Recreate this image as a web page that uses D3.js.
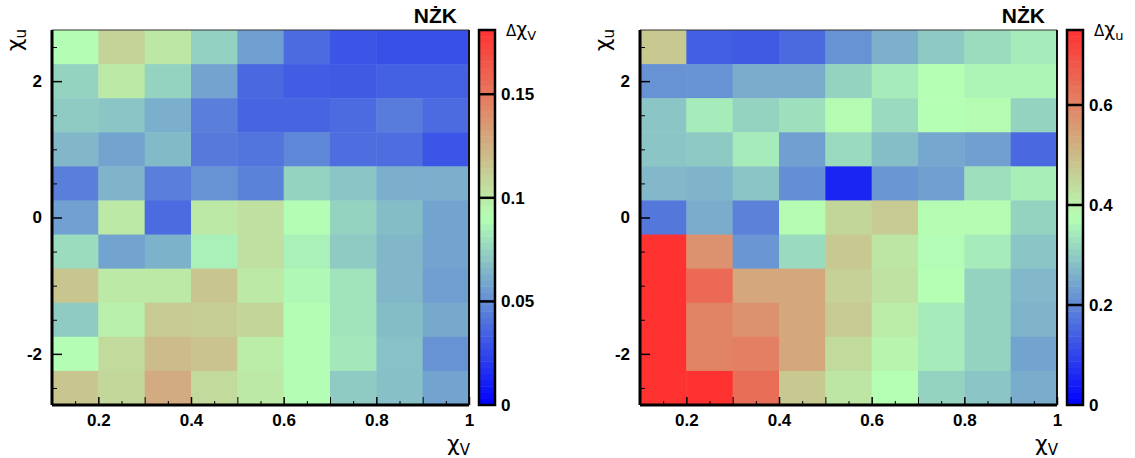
<!DOCTYPE html>
<html>
<head>
<meta charset="utf-8">
<script src="https://cdn.jsdelivr.net/npm/d3@7"></script>
<style>
  body { margin: 0; background: #fff; }
  .tick text { font-family: "Liberation Sans", Arial, sans-serif; font-weight: bold; font-size: 17px; fill: #000; }
</style>
</head>
<body>
<div id="chart"></div>
<script>
var W = 1135, H = 458;

// bin centres
var xCenters = [0.15, 0.25, 0.35, 0.45, 0.55, 0.65, 0.75, 0.85, 0.95];
var yCenters = [2.5, 2, 1.5, 1, 0.5, 0, -0.5, -1, -1.5, -2, -2.5];

// delta chi_V, rows from top (chi_u = 2.5) to bottom (chi_u = -2.5)
var dChiV = [
  [0.090, 0.110, 0.101, 0.074, 0.056, 0.038, 0.030, 0.028, 0.028],
  [0.075, 0.100, 0.075, 0.058, 0.037, 0.033, 0.032, 0.034, 0.034],
  [0.072, 0.070, 0.062, 0.045, 0.036, 0.036, 0.038, 0.044, 0.038],
  [0.065, 0.058, 0.066, 0.043, 0.041, 0.048, 0.039, 0.039, 0.030],
  [0.045, 0.064, 0.045, 0.052, 0.046, 0.075, 0.070, 0.062, 0.062],
  [0.057, 0.100, 0.038, 0.100, 0.104, 0.090, 0.075, 0.067, 0.058],
  [0.078, 0.058, 0.063, 0.085, 0.104, 0.085, 0.072, 0.065, 0.058],
  [0.116, 0.100, 0.100, 0.116, 0.100, 0.088, 0.081, 0.065, 0.056],
  [0.072, 0.097, 0.114, 0.112, 0.109, 0.090, 0.081, 0.067, 0.060],
  [0.090, 0.107, 0.120, 0.117, 0.099, 0.090, 0.082, 0.069, 0.052],
  [0.116, 0.108, 0.127, 0.107, 0.100, 0.090, 0.072, 0.068, 0.058]
];

// delta chi_u
var dChiU = [
  [0.476, 0.139, 0.133, 0.156, 0.214, 0.260, 0.296, 0.323, 0.345],
  [0.214, 0.214, 0.255, 0.255, 0.310, 0.345, 0.375, 0.360, 0.360],
  [0.290, 0.345, 0.310, 0.330, 0.380, 0.320, 0.375, 0.380, 0.310],
  [0.290, 0.295, 0.345, 0.235, 0.320, 0.280, 0.245, 0.235, 0.155],
  [0.270, 0.265, 0.290, 0.210, 0.055, 0.220, 0.235, 0.330, 0.350],
  [0.175, 0.255, 0.190, 0.380, 0.450, 0.470, 0.380, 0.380, 0.310],
  [0.780, 0.574, 0.220, 0.320, 0.475, 0.420, 0.370, 0.345, 0.290],
  [0.780, 0.650, 0.536, 0.536, 0.460, 0.430, 0.375, 0.310, 0.270],
  [0.780, 0.600, 0.575, 0.536, 0.470, 0.410, 0.345, 0.310, 0.265],
  [0.780, 0.600, 0.610, 0.536, 0.440, 0.395, 0.345, 0.310, 0.240],
  [0.780, 0.780, 0.640, 0.475, 0.420, 0.375, 0.310, 0.290, 0.255]
];

var xTicks = [0.2, 0.4, 0.6, 0.8, 1];
var yTicks = [-2, 0, 2];
var zTicksV = [0, 0.05, 0.1, 0.15];
var zTicksU = [0, 0.2, 0.4, 0.6];

var svg = d3.select("#chart").append("svg").attr("width", W).attr("height", H);

function drawPanel(ox, data, zmax, zTicks, zSub) {
  var pw = 417, top = 30, bottom = 405;
  var g = svg.append("g").attr("transform", "translate(" + ox + ",0)");

  var x = d3.scaleLinear().domain([0.1, 1]).range([0, pw]);
  var y = d3.scaleLinear().domain([-2.75, 2.75]).range([bottom, top]);
  var color = d3.scaleLinear()
      .domain([0, zmax / 2, zmax])
      .range(["rgb(0,0,255)", "rgb(180,255,180)", "rgb(255,50,50)"])
      .clamp(true);

  // cells
  data.forEach(function(row, i) {
    row.forEach(function(v, j) {
      g.append("rect")
        .attr("x", x(xCenters[j] - 0.05))
        .attr("y", y(yCenters[i] + 0.25))
        .attr("width", x(xCenters[j] + 0.05) - x(xCenters[j] - 0.05) + 0.5)
        .attr("height", y(yCenters[i] - 0.25) - y(yCenters[i] + 0.25) + 0.5)
        .attr("fill", color(v));
    });
  });

  // frame
  g.append("line").attr("x1", 0).attr("x2", pw).attr("y1", top).attr("y2", top)
    .attr("stroke", "#333").attr("stroke-width", 1);
  g.append("line").attr("x1", pw).attr("x2", pw).attr("y1", top).attr("y2", bottom)
    .attr("stroke", "#111").attr("stroke-width", 2);

  // minor ticks
  var xMinor = d3.range(0.15, 1.0, 0.1);
  g.append("g").attr("transform", "translate(0," + bottom + ")")
    .call(d3.axisBottom(x).tickValues(xMinor).tickSize(-4).tickFormat(""))
    .call(function(a) { a.select(".domain").remove(); });
  var yMinor = [-2.5, -1.5, -1, -0.5, 0.5, 1, 1.5, 2.5];
  g.append("g")
    .call(d3.axisLeft(y).tickValues(yMinor).tickSize(-5).tickFormat(""))
    .call(function(a) { a.select(".domain").remove(); });

  // x axis
  var xMid = [0.3, 0.5, 0.7, 0.9];
  g.append("g").attr("transform", "translate(0," + bottom + ")")
    .call(d3.axisBottom(x).tickValues(xMid).tickSize(-8).tickFormat(""))
    .call(function(a) { a.select(".domain").remove(); });
  var xa = g.append("g").attr("transform", "translate(0," + bottom + ")")
    .call(d3.axisBottom(x).tickValues(xTicks).tickSize(-8).tickPadding(9).tickFormat(String));
  xa.select(".domain").attr("stroke-width", 3).attr("d", "M0,0H" + pw);

  // y axis
  var ya = g.append("g")
    .call(d3.axisLeft(y).tickValues(yTicks).tickSize(-10).tickPadding(10).tickFormat(String));
  ya.select(".domain").attr("stroke-width", 3).attr("d", "M0," + top + "V" + bottom);
  ya.selectAll(".tick line").attr("stroke-width", 1.5);
  xa.selectAll(".tick line").attr("stroke-width", 1.5);

  // axis titles
  var xt = g.append("text").attr("x", pw + 1).attr("y", 451).attr("text-anchor", "end");
  xt.append("tspan").attr("font-family", "DejaVu Sans, sans-serif").attr("font-size", 22).text("χ");
  xt.append("tspan").attr("font-family", "DejaVu Sans, sans-serif").attr("font-size", 15)
    .attr("dy", 4).text("V");

  var yt = g.append("text").attr("transform", "translate(-30," + (top - 1) + ") rotate(-90)")
    .attr("text-anchor", "end");
  yt.append("tspan").attr("font-family", "DejaVu Sans, sans-serif").attr("font-size", 22).text("χ");
  yt.append("tspan").attr("font-family", "DejaVu Sans, sans-serif").attr("font-size", 15)
    .attr("dy", 4).text("u");

  // title
  g.append("text").attr("x", pw - 12).attr("y", 23).attr("text-anchor", "end")
    .attr("font-family", "Liberation Sans, Arial, sans-serif").attr("font-weight", "bold")
    .attr("font-size", 21).text("NŻK");

  // colour bar
  var cbx = pw + 10, cbw = 16;
  var z = d3.scaleLinear().domain([0, zmax]).range([bottom, top]);
  var nSteps = 60;
  var cb = g.append("g").attr("transform", "translate(" + cbx + ",0)");
  d3.range(nSteps).forEach(function(k) {
    var v0 = zmax * k / nSteps, v1 = zmax * (k + 1) / nSteps;
    cb.append("rect").attr("x", 0).attr("width", cbw)
      .attr("y", z(v1)).attr("height", z(v0) - z(v1) + 0.5)
      .attr("fill", color((v0 + v1) / 2));
  });
  cb.append("rect").attr("x", 0).attr("y", top).attr("width", cbw).attr("height", bottom - top)
    .attr("fill", "none").attr("stroke", "#000").attr("stroke-width", 2.5);
  var za = cb.append("g").attr("transform", "translate(" + cbw + ",0)")
    .call(d3.axisRight(z).tickValues(zTicks).tickSize(0).tickPadding(6).tickFormat(String));
  za.select(".domain").remove();
  cb.selectAll(".cbtick").data(zTicks.slice(1)).enter().append("line")
    .attr("x1", 0).attr("x2", cbw).attr("y1", function(d) { return z(d); })
    .attr("y2", function(d) { return z(d); })
    .attr("stroke", "#000").attr("stroke-width", 2.5);

  var zt = cb.append("text").attr("x", cbw + 11).attr("y", 36);
  zt.append("tspan").attr("font-family", "DejaVu Sans, sans-serif").attr("font-size", 15).text("Δ");
  zt.append("tspan").attr("font-family", "DejaVu Sans, sans-serif").attr("font-size", 19).text("χ");
  zt.append("tspan").attr("font-family", "DejaVu Sans, sans-serif").attr("font-size", 13)
    .attr("dy", 4).text(zSub);
}

drawPanel(52, dChiV, 0.181, zTicksV, "V");
drawPanel(640, dChiU, 0.75, zTicksU, "u");
</script>
</body>
</html>
